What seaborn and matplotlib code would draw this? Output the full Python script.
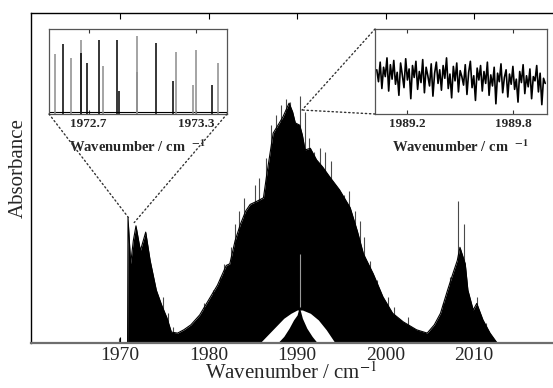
import numpy as np
import matplotlib
matplotlib.use("Agg")
import matplotlib.pyplot as plt
from matplotlib.patches import ConnectionPatch
import seaborn as sns

# ---------------- data ----------------
# upper envelope of the dense spectrum (wavenumber / cm-1, absorbance a.u.)
env_wn = [1970.85, 1970.9, 1971.2, 1971.5, 1971.8, 1972.3, 1972.9, 1973.4, 1974.1,
          1974.7, 1975.3, 1975.8, 1976.5, 1977.2, 1978.0, 1979.0, 1980.0, 1981.0,
          1982.0, 1982.4, 1983.0, 1983.6, 1984.2, 1984.7, 1985.5, 1986.2, 1986.6,
          1987.3, 1988.0, 1988.4, 1989.1, 1989.5, 1989.8, 1990.3, 1990.6, 1990.9,
          1991.5, 1992.2, 1992.9, 1993.7, 1994.8, 1996.0, 1996.8, 1997.5, 1998.6,
          1999.7, 2000.8, 2002.0, 2003.5, 2004.7, 2005.5, 2006.2, 2007.0, 2007.6,
          2008.1, 2008.4, 2009.0, 2009.3, 2009.9, 2010.3, 2011.0, 2011.8, 2012.6]
env_abs = [0.0, 0.38, 0.24, 0.31, 0.355, 0.28, 0.336, 0.25, 0.16,
           0.115, 0.076, 0.033, 0.03, 0.04, 0.055, 0.085, 0.13, 0.175,
           0.235, 0.24, 0.31, 0.36, 0.40, 0.42, 0.43, 0.44, 0.515,
           0.636, 0.667, 0.685, 0.727, 0.70, 0.667, 0.66, 0.63, 0.585,
           0.59, 0.555, 0.533, 0.503, 0.464, 0.41, 0.34, 0.27, 0.21,
           0.14, 0.09, 0.064, 0.04, 0.03, 0.055, 0.09, 0.16, 0.21,
           0.25, 0.29, 0.24, 0.16, 0.10, 0.12, 0.07, 0.03, 0.0]

# individual lines sticking out above the envelope
spike_wn = [1969.85, 1974.9, 1975.4, 1976.0, 1979.5, 1980.5, 1981.3, 1981.8, 1982.5,
            1983.0, 1983.4, 1984.0, 1985.3, 1985.7, 1986.5, 1987.0, 1987.6, 1988.2,
            1988.8, 1989.2, 1990.3, 1990.9, 1991.3, 1991.9, 1992.6, 1993.1, 1993.8,
            1994.5, 1995.3, 1995.9, 1996.6, 1997.1, 1997.6, 1998.2, 1999.0, 2000.3,
            2001.0, 2002.5, 2006.5, 2007.3, 2008.15, 2008.9, 2010.3, 2011.3]
spike_abs = [0.015, 0.14, 0.09, 0.05, 0.12, 0.16, 0.20, 0.24, 0.29,
             0.36, 0.40, 0.44, 0.48, 0.50, 0.56, 0.66, 0.69, 0.72,
             0.74, 0.73, 0.75, 0.70, 0.62, 0.58, 0.59, 0.58, 0.55,
             0.47, 0.45, 0.46, 0.40, 0.37, 0.32, 0.25, 0.19, 0.14,
             0.11, 0.08, 0.12, 0.20, 0.43, 0.36, 0.14, 0.06]

# lower envelope near the band centre (white gap under the lines)
low_wn = [1985.8, 1986.7, 1987.6, 1988.5, 1989.3, 1990.0, 1990.6, 1991.5, 1992.4, 1993.3, 1994.3]
low_abs = [0.0, 0.025, 0.05, 0.075, 0.09, 0.10, 0.10, 0.09, 0.07, 0.04, 0.0]

# small Q-branch hump at the bottom
hump_wn = [1987.8, 1988.5, 1989.1, 1989.6, 1990.0, 1990.25, 1990.6, 1991.1, 1991.7, 1992.3]
hump_abs = [0.0, 0.02, 0.045, 0.07, 0.085, 0.11, 0.075, 0.045, 0.02, 0.0]

# gap in the fill at the strongest line
gap_wn = [1990.3]
gap_lo = [0.11]
gap_hi = [0.27]

# left inset: resolved lines (two overlaid traces)
ins1_black_wn = [1972.56, 1972.658, 1972.69, 1972.76, 1972.86, 1973.074, 1973.17, 1973.387, 1972.87]
ins1_black_h = [0.82, 0.72, 0.60, 0.87, 0.87, 0.83, 0.39, 0.34, 0.27]
ins1_gray_wn = [1972.513, 1972.60, 1972.656, 1972.78, 1972.967, 1972.969, 1973.186, 1973.30, 1973.28, 1973.42]
ins1_gray_h = [0.71, 0.66, 0.87, 0.57, 0.92, 0.50, 0.73, 0.75, 0.34, 0.60]
ins1_ticks = [1972.7, 1973.3]

# right inset: unresolved line-dense region
ins2_abs = [0.52, 0.38, 0.61, 0.30, 0.55, 0.44, 0.66, 0.27, 0.58, 0.41,
            0.63, 0.35, 0.49, 0.22, 0.60, 0.46, 0.31, 0.65, 0.40, 0.53,
            0.18, 0.57, 0.43, 0.62, 0.29, 0.50, 0.37, 0.64, 0.25, 0.55,
            0.45, 0.33, 0.59, 0.21, 0.48, 0.61, 0.36, 0.52, 0.28, 0.57,
            0.42, 0.66, 0.30, 0.47, 0.19, 0.56, 0.39, 0.60, 0.26, 0.51,
            0.44, 0.34, 0.58, 0.23, 0.49, 0.62, 0.31, 0.45, 0.16, 0.54,
            0.40, 0.57, 0.27, 0.50, 0.36, 0.61, 0.22, 0.46, 0.33, 0.55,
            0.12, 0.48, 0.38, 0.59, 0.25, 0.43, 0.52, 0.20, 0.47, 0.35,
            0.56, 0.29, 0.41, 0.14, 0.50, 0.37, 0.58, 0.24, 0.45, 0.32,
            0.53, 0.18, 0.44, 0.39, 0.57, 0.26, 0.48, 0.11, 0.42, 0.36]
ins2_range = (1989.03, 1989.98)
ins2_ticks = [1989.2, 1989.8]

main_ticks = [1970, 1980, 1990, 2000, 2010]

# ---------------- style ----------------
sns.set_style("ticks")
plt.rcParams["font.family"] = ["Liberation Serif", "DejaVu Serif"]
plt.rcParams["mathtext.fontset"] = "stix"

fig = plt.figure(figsize=(5.53, 3.88), dpi=100)
ax = fig.add_axes([31 / 553, 1 - 343 / 388, 521 / 553, 330 / 388])

# main spectrum
ax.vlines(spike_wn, 0, spike_abs, color="#4a4a4a", lw=0.8, zorder=0.5)
ax.fill_between(env_wn, 0, env_abs, color="black", lw=0, zorder=1)
sns.lineplot(x=env_wn, y=env_abs, ax=ax, color="black", lw=0.8, estimator=None, sort=False)
ax.fill_between(low_wn, 0, low_abs, color="white", lw=0, zorder=2.2)
ax.fill_between(hump_wn, 0, hump_abs, color="black", lw=0, zorder=2.3)
ax.vlines(gap_wn, gap_lo, gap_hi, color="#9a9a9a", lw=0.8, zorder=2.4)

ax.set_xlim(1959.94, 2018.8)
ax.set_ylim(0, 1)
ax.set_xticks(main_ticks)
ax.set_yticks([])
ax.tick_params(axis="x", direction="in", top=True, bottom=True, length=4,
               labelsize=14, pad=3, color="black")
ax.set_xlabel("Wavenumber / cm$^{-1}$", fontsize=15, labelpad=-1)
ax.set_ylabel("Absorbance", fontsize=15)
ax.yaxis.set_label_coords(-0.006, 0.53)
ax.spines["right"].set_visible(False)
for s in ["left", "top"]:
    ax.spines[s].set_color("black")
    ax.spines[s].set_linewidth(1.0)
ax.spines["bottom"].set_color("#6e6e6e")
ax.spines["bottom"].set_linewidth(1.6)

# left inset
ax1 = fig.add_axes([49 / 553, 1 - 114 / 388, 178 / 553, 85 / 388])
ax1.hlines([0.02], 1972.48, 1973.47, color="black", lw=0.8)
ax1.vlines(ins1_gray_wn, 0, ins1_gray_h, color="#8c8c8c", lw=1.1)
ax1.vlines(ins1_black_wn, 0, ins1_black_h, color="black", lw=1.1)
ax1.set_xlim(1972.48, 1973.47)
ax1.set_ylim(0, 1.0)
ax1.set_xticks(ins1_ticks)
ax1.set_xticklabels(["1972.7", "1973.3"])
ax1.set_yticks([])

# right inset
ax2 = fig.add_axes([375 / 553, 1 - 114 / 388, 172 / 553, 85 / 388])
ins2_wn = np.linspace(ins2_range[0], ins2_range[1], len(ins2_abs))
sns.lineplot(x=ins2_wn, y=ins2_abs, ax=ax2, color="black", lw=1.2, estimator=None, sort=False)
ax2.set_xlim(1989.02, 1989.99)
ax2.set_ylim(0, 1.0)
ax2.set_xticks(ins2_ticks)
ax2.set_xticklabels(["1989.2", "1989.8"])
ax2.set_yticks([])

for a in (ax1, ax2):
    a.set_facecolor("white")
    for s in a.spines.values():
        s.set_color("#555555")
        s.set_linewidth(0.9)
        s.set_visible(True)
    a.tick_params(axis="x", direction="in", top=True, bottom=True, length=3,
                  labelsize=9.5, pad=3, color="#333333")
    for lab in a.get_xticklabels():
        lab.set_fontweight("bold")
    a.set_xlabel(r"Wavenumber / cm  $^{\mathbf{-1}}$", fontsize=10.5,
                 fontweight="bold", labelpad=6)

# dotted connectors
dots = dict(linestyle=(0, (1, 2)), color="#333333", lw=1.0)
for xyA, xyB, axA in [((0, 0), (1970.95, 0.38), ax1),
                      ((1, 0), (1971.6, 0.365), ax1),
                      ((0, 1), (1990.56, 0.706), ax2),
                      ((0, 0), (1990.56, 0.706), ax2)]:
    cp = ConnectionPatch(xyA=xyA, coordsA=axA.transAxes, xyB=xyB, coordsB=ax.transData, **dots)
    fig.add_artist(cp)

fig.savefig("out.png", dpi=100)
